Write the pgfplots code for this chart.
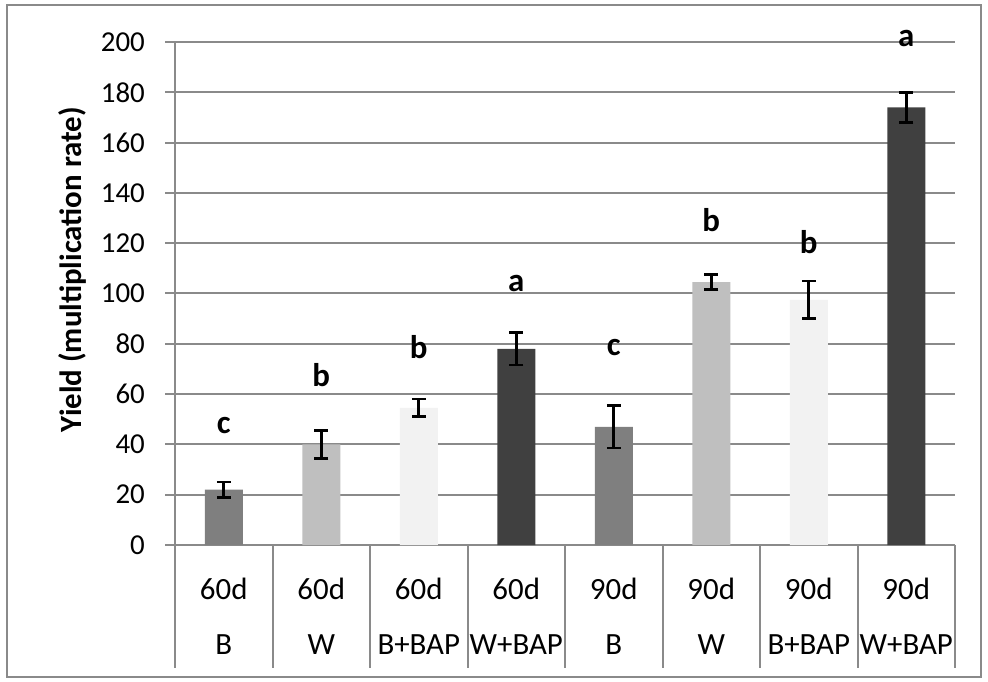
\documentclass[border=0pt]{standalone}
\usepackage{fontspec}
\setmainfont{Carlito}
\usepackage{pgfplots}
\pgfplotsset{compat=1.18}
\definecolor{gridgray}{HTML}{8A8A8A}
\definecolor{cB}{HTML}{7F7F7F}
\definecolor{cW}{HTML}{BFBFBF}
\definecolor{cBB}{HTML}{F2F2F2}
\definecolor{cWB}{HTML}{404040}
\pgfplotsset{
  myerr/.style={error bars/.cd, y dir=both, y explicit,
    error bar style={black, line width=2.6bp},
    error mark options={rotate=90, mark size=7bp, line width=2.6bp, black}},
}
\begin{document}
\begin{tikzpicture}
\useasboundingbox (0,0) rectangle (988bp,682bp);
\draw[gridgray, line width=2bp] (6.5bp,5bp) rectangle (981bp,677bp);
\begin{axis}[
  at={(175bp,137bp)}, anchor=south west,
  scale only axis, width=780bp, height=503bp,
  xmin=-0.5, xmax=7.5, ymin=0, ymax=200,
  clip=false,
  axis lines*=left,
  axis line style={gridgray, line width=2bp},
  xtick=\empty,
  ytick={0,20,...,200},
  ymajorgrids,
  grid style={gridgray, line width=2bp},
  tick style={gridgray, line width=2bp},
  tick align=outside, major tick length=10bp,
  /pgf/number format/assume math mode=true,
  yticklabel style={font=\fontsize{29}{32}\selectfont, anchor=east, inner sep=0pt, xshift=-20bp},
  every axis y label/.style={at={(axis description cs:-0.132,0.547)}, rotate=90, anchor=center, font=\fontsize{31}{34}\selectfont\bfseries},
  ylabel={Yield (multiplication rate)},
  ybar, bar width=38bp, bar shift=0pt,
]
\addplot[fill=cB, draw=none, myerr] coordinates {(0,22) +- (0,3) (4,47) +- (0,8.5)};
\addplot[fill=cW, draw=none, myerr] coordinates {(1,40) +- (0,5.5) (5,104.5) +- (0,3)};
\addplot[fill=cBB, draw=none, myerr] coordinates {(2,54.5) +- (0,3.5) (6,97.5) +- (0,7.5)};
\addplot[fill=cWB, draw=none, myerr] coordinates {(3,78) +- (0,6.5) (7,174) +- (0,6)};
% significance letters
\begin{scope}[every node/.style={font=\fontsize{33}{36}\selectfont\bfseries, anchor=center}]
\node at (axis cs:0,47.7) {c};
\node at (axis cs:1,67.6) {b};
\node at (axis cs:2,78.7) {b};
\node at (axis cs:3,103.8) {a};
\node at (axis cs:4,78.7) {c};
\node at (axis cs:5,129) {b};
\node at (axis cs:6,120.5) {b};
\node at (axis cs:7,201.5) {a};
\end{scope}
% category separators
\pgfplotsinvokeforeach{-0.5,0.5,1.5,2.5,3.5,4.5,5.5,6.5,7.5}{
  \draw[gridgray, line width=2bp] (axis cs:#1,0) -- ([yshift=-123bp]axis cs:#1,0);
}
% category labels
\begin{scope}[every node/.style={font=\fontsize{31}{34}\selectfont, anchor=base, inner sep=0pt}]
\node[yshift=-54bp] at (axis cs:0,0) {60d};
\node[yshift=-54bp] at (axis cs:1,0) {60d};
\node[yshift=-54bp] at (axis cs:2,0) {60d};
\node[yshift=-54bp] at (axis cs:3,0) {60d};
\node[yshift=-54bp] at (axis cs:4,0) {90d};
\node[yshift=-54bp] at (axis cs:5,0) {90d};
\node[yshift=-54bp] at (axis cs:6,0) {90d};
\node[yshift=-54bp] at (axis cs:7,0) {90d};
\node[yshift=-109bp] at (axis cs:0,0) {B};
\node[yshift=-109bp] at (axis cs:1,0) {W};
\node[yshift=-109bp] at (axis cs:2,0) {B+BAP};
\node[yshift=-109bp] at (axis cs:3,0) {W+BAP};
\node[yshift=-109bp] at (axis cs:4,0) {B};
\node[yshift=-109bp] at (axis cs:5,0) {W};
\node[yshift=-109bp] at (axis cs:6,0) {B+BAP};
\node[yshift=-109bp] at (axis cs:7,0) {W+BAP};
\end{scope}
\end{axis}
\end{tikzpicture}
\end{document}
